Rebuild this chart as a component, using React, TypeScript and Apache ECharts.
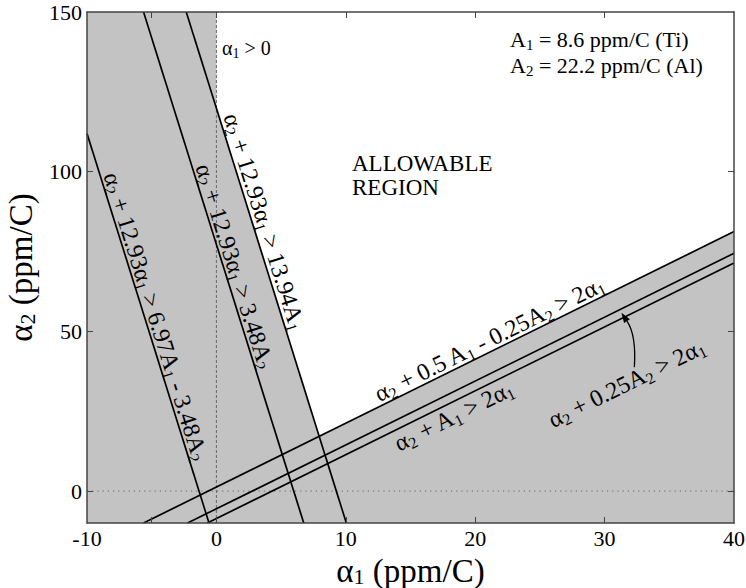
import React, { useEffect, useRef } from 'react';
import * as echarts from 'echarts';

// Material constants shown on the chart
const A1 = 8.6; // ppm/C (Ti)
const A2 = 22.2; // ppm/C (Al)

// Axis ticks / labels
const xTickValues = [-5, 0, 10, 20, 30];
const yLabelValues = [0, 50, 100, 150];
const yTickValues = [0, 50, 100];

// Boundary lines (endpoints where each line meets the plot frame)
// 0: a2 + 12.93a1 = 13.94A1, 1: = 3.48A2, 2: = 6.97A1 - 3.48A2
// 3: a2 + 0.5A1 - 0.25A2 = 2a1, 4: a2 + A1 = 2a1, 5: a2 + 0.25A2 = 2a1
const lineStartA1 = [-2.33, -5.63, -10, -5.63, -0.7, -2.23];
const lineStartA2 = [150, 150, 111.99, -10, -10, -10];
const lineEndA1 = [10.04, 6.75, -0.57, 40, 40, 40];
const lineEndA2 = [-10, -10, -10, 81.25, 71.4, 74.45];

// Allowable (white) region vertices
const allowedA1 = [0, 40, 40, 7.95, 0];
const allowedA2 = [150, 150, 81.25, 17.14, 119.88];

// Reference lines a1 = 0 and a2 = 0
const zeroVertical = [[0, -10], [0, 150]];
const zeroHorizontal = [[-10, 0], [40, 0]];

const FONT = 'Liberation Serif, Times New Roman, serif';

// Layout of the rotated line labels (anchor on the line, perpendicular offset in px)
const lineLabels = [
  { text: 'α{s|2} + 12.93α{s|1} > 13.94A{s|1}', line: 0, at: [2.84, 83.2], off: 12 },
  { text: 'α{s|2} + 12.93α{s|1} > 3.48A{s|2}', line: 1, at: [0.62, 69.3], off: 11 },
  { text: 'α{s|2} + 12.93α{s|1} > 6.97A{s|1} - 3.48A{s|2}', line: 2, at: [-5.48, 53.6], off: 11 },
  { text: 'α{s|2} + 0.5 A{s|1} - 0.25A{s|2} > 2α{s|1}', line: 3, at: [21.5, 44.25], off: 12 },
  { text: 'α{s|2} + A{s|1} > 2α{s|1}', line: 4, at: [17.9, 27.2], off: -13 },
  { text: 'α{s|2} + 0.25A{s|2} > 2α{s|1}', line: 5, at: [31.7, 33.8], off: 0 },
];

const arrowStart = [32.3, 38.8];
const arrowBend = [32.46, 48.8];
const arrowTip = [31.3, 55.8];

const subStyle = (size: number) => ({
  fontSize: size,
  lineHeight: size,
  verticalAlign: 'bottom',
  fontFamily: FONT,
  fill: '#000',
  color: '#000',
});

export default function App() {
  const ref = useRef<HTMLDivElement>(null);

  useEffect(() => {
    if (!ref.current) return;
    const chart = echarts.init(ref.current, null, { renderer: 'svg' });

    const axisLineStyle = { color: '#444', width: 1.5 };
    const tickStyle = { color: '#444', width: 1 };

    const blackLines = lineStartA1.map((_, i) => ({
      type: 'line',
      xAxisIndex: 0,
      yAxisIndex: 0,
      z: 3,
      silent: true,
      symbol: 'none',
      lineStyle: { color: '#000', width: 1.7 },
      data: [
        [lineStartA1[i], lineStartA2[i]],
        [lineEndA1[i], lineEndA2[i]],
      ],
    }));

    const option: any = {
      animation: false,
      textStyle: { fontFamily: FONT },
      grid: {
        left: 87,
        right: 12,
        top: 12,
        bottom: 65,
        show: true,
        backgroundColor: '#c3c3c3',
        borderWidth: 0,
        containLabel: false,
        outerBoundsMode: 'none',
      },
      xAxis: [
        {
          type: 'value',
          min: -10,
          max: 40,
          interval: 10,
          position: 'bottom',
          z: 5,
          axisLine: { show: true, onZero: false, lineStyle: axisLineStyle },
          axisTick: { show: true, inside: true, length: 6, customValues: xTickValues, lineStyle: tickStyle },
          axisLabel: {
            fontSize: 22,
            fontFamily: FONT,
            color: '#000',
            margin: 4,
            showMinLabel: true,
            showMaxLabel: true,
          },
          splitLine: { show: false },
          name: 'α{s|1} (ppm/C)',
          nameLocation: 'middle',
          nameGap: 19,
          nameTextStyle: {
            fontSize: 33,
            fontFamily: FONT,
            color: '#000',
            lineHeight: 34,
            rich: { s: subStyle(22) },
          },
        },
        {
          type: 'value',
          min: -10,
          max: 40,
          interval: 10,
          position: 'top',
          z: 5,
          axisLine: { show: true, onZero: false, lineStyle: axisLineStyle },
          axisTick: { show: true, inside: true, length: 6, customValues: xTickValues, lineStyle: tickStyle },
          axisLabel: { show: false },
          splitLine: { show: false },
        },
      ],
      yAxis: [
        {
          type: 'value',
          min: -10,
          max: 150,
          position: 'left',
          z: 5,
          axisLine: { show: true, onZero: false, lineStyle: axisLineStyle },
          axisTick: { show: true, inside: true, length: 6, customValues: yTickValues, lineStyle: tickStyle },
          axisLabel: {
            fontSize: 22,
            fontFamily: FONT,
            color: '#000',
            margin: 5,
            customValues: yLabelValues,
          },
          splitLine: { show: false },
          name: 'α{s|2} (ppm/C)',
          nameLocation: 'middle',
          nameGap: 44,
          nameRotate: 90,
          nameTextStyle: {
            fontSize: 33,
            fontFamily: FONT,
            color: '#000',
            lineHeight: 34,
            rich: { s: subStyle(22) },
          },
        },
        {
          type: 'value',
          min: -10,
          max: 150,
          position: 'right',
          z: 5,
          axisLine: { show: true, onZero: false, lineStyle: axisLineStyle },
          axisTick: { show: true, inside: true, length: 6, customValues: yTickValues, lineStyle: tickStyle },
          axisLabel: { show: false },
          splitLine: { show: false },
        },
      ],
      series: [
        {
          type: 'custom',
          coordinateSystem: 'cartesian2d',
          xAxisIndex: 0,
          yAxisIndex: 0,
          z: 1,
          silent: true,
          data: [[allowedA1[0], allowedA2[0]]],
          renderItem: (_params: any, api: any) => ({
            type: 'polygon',
            shape: { points: allowedA1.map((a, i) => api.coord([a, allowedA2[i]])) },
            style: { fill: '#ffffff' },
          }),
        },
        {
          type: 'line',
          xAxisIndex: 0,
          yAxisIndex: 0,
          z: 2,
          silent: true,
          symbol: 'none',
          lineStyle: { color: '#666', width: 1, type: [3, 2] },
          data: zeroVertical,
        },
        {
          type: 'line',
          xAxisIndex: 0,
          yAxisIndex: 0,
          z: 2,
          silent: true,
          symbol: 'none',
          lineStyle: { color: '#666', width: 1, type: [1.2, 4] },
          data: zeroHorizontal,
        },
        ...blackLines,
        {
          type: 'custom',
          coordinateSystem: 'cartesian2d',
          xAxisIndex: 0,
          yAxisIndex: 0,
          z: 4,
          silent: true,
          data: lineLabels.map((l) => l.at),
          renderItem: (params: any, api: any) => {
            const L = lineLabels[params.dataIndex];
            const c = api.coord(L.at);
            const p0 = api.coord([lineStartA1[L.line], lineStartA2[L.line]]);
            const p1 = api.coord([lineEndA1[L.line], lineEndA2[L.line]]);
            let dx = p1[0] - p0[0];
            let dy = p1[1] - p0[1];
            if (dx < 0) {
              dx = -dx;
              dy = -dy;
            }
            const r = Math.atan2(-dy, dx);
            const x = c[0] - L.off * Math.sin(r);
            const y = c[1] - L.off * Math.cos(r);
            return {
              type: 'text',
              x,
              y,
              rotation: r,
              style: {
                text: L.text,
                fontSize: 24,
                fontFamily: FONT,
                fill: '#000',
                lineHeight: 28,
                align: 'center',
                verticalAlign: 'middle',
                rich: { s: subStyle(16) },
              },
            };
          },
        },
        {
          type: 'custom',
          coordinateSystem: 'cartesian2d',
          xAxisIndex: 0,
          yAxisIndex: 0,
          z: 4,
          silent: true,
          data: [arrowTip],
          renderItem: (_params: any, api: any) => {
            const s = api.coord(arrowStart);
            const c = api.coord(arrowBend);
            const t = api.coord(arrowTip);
            const dx = t[0] - c[0];
            const dy = t[1] - c[1];
            const len = Math.hypot(dx, dy) || 1;
            const ux = dx / len;
            const uy = dy / len;
            const hl = 10;
            const hw = 3.5;
            const bx = t[0] - ux * hl;
            const by = t[1] - uy * hl;
            return {
              type: 'group',
              children: [
                {
                  type: 'bezierCurve',
                  shape: { x1: s[0], y1: s[1], x2: bx, y2: by, cpx1: c[0], cpy1: c[1] },
                  style: { stroke: '#000', lineWidth: 1.3, fill: 'none' },
                },
                {
                  type: 'polygon',
                  shape: {
                    points: [
                      [t[0], t[1]],
                      [bx - uy * hw, by + ux * hw],
                      [bx + uy * hw, by - ux * hw],
                    ],
                  },
                  style: { fill: '#000' },
                },
              ],
            };
          },
        },
      ],
      graphic: [
        {
          type: 'text',
          x: 510,
          y: 26,
          z: 10,
          style: {
            text: `A{s|1} = ${A1} ppm/C (Ti)\nA{s|2} = ${A2} ppm/C (Al)`,
            fontSize: 22,
            fontFamily: FONT,
            fill: '#000',
            lineHeight: 26,
            align: 'left',
            verticalAlign: 'top',
            rich: { s: subStyle(15) },
          },
        },
        {
          type: 'text',
          x: 352,
          y: 151,
          z: 10,
          style: {
            text: 'ALLOWABLE\nREGION',
            fontSize: 23,
            fontFamily: FONT,
            fill: '#000',
            lineHeight: 24,
            align: 'left',
            verticalAlign: 'top',
          },
        },
        {
          type: 'text',
          x: 222,
          y: 48,
          z: 10,
          style: {
            text: 'α{s|1} > 0',
            fontSize: 20,
            fontFamily: FONT,
            fill: '#000',
            lineHeight: 24,
            align: 'left',
            verticalAlign: 'middle',
            rich: { s: subStyle(14) },
          },
        },
      ],
    };

    chart.setOption(option);
    return () => {
      chart.dispose();
    };
  }, []);

  return (
    <div
      ref={ref}
      style={{ position: 'absolute', left: 0, top: 0, width: 746, height: 588 }}
    />
  );
}
